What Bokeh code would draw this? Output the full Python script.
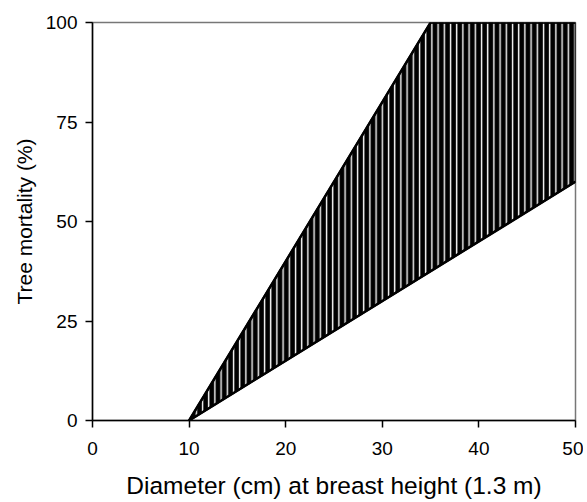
from bokeh.plotting import figure
from bokeh.models import Range1d, FixedTicker
from bokeh.embed import file_html
from bokeh.resources import INLINE

# Data: envelope of tree mortality vs diameter
upper_x = [10, 35, 50]
upper_y = [0, 100, 100]
lower_x = [50, 10]
lower_y = [60, 0]
x_ticks = [0, 10, 20, 30, 40, 50]
y_ticks = [0, 25, 50, 75, 100]

poly_x = upper_x + lower_x
poly_y = upper_y + lower_y

p = figure(width=583, height=502, output_backend="svg", toolbar_location=None,
           x_range=Range1d(0, 50), y_range=Range1d(0, 100),
           min_border_left=92, min_border_right=8, min_border_top=22, min_border_bottom=82)

p.patch(poly_x, poly_y, fill_color="black", line_color="black", line_width=2,
        hatch_pattern="vertical_line", hatch_color="white", hatch_scale=6.2, hatch_weight=1.4)
p.line(upper_x, upper_y, line_color="black", line_width=2.5)
p.line(lower_x, lower_y, line_color="black", line_width=2.5)

p.grid.visible = False
p.outline_line_color = "#777777"
p.outline_line_width = 1.5

for ax in (p.xaxis[0], p.yaxis[0]):
    ax.axis_line_color = "black"
    ax.axis_line_width = 1.5
    ax.major_tick_line_color = "black"
    ax.major_tick_line_width = 1.5
    ax.major_tick_out = 7
    ax.major_tick_in = 0
    ax.minor_tick_line_color = None
    ax.major_label_text_font = "Liberation Sans"
    ax.major_label_text_font_size = "19px"
    ax.major_label_text_color = "black"
    ax.axis_label_text_font = "Liberation Sans"
    ax.axis_label_text_font_style = "normal"
    ax.axis_label_text_color = "black"

p.xaxis[0].axis_label_text_font_size = "24.5px"
p.yaxis[0].axis_label_text_font_size = "21px"
p.xaxis[0].ticker = FixedTicker(ticks=x_ticks)
p.yaxis[0].ticker = FixedTicker(ticks=y_ticks)
p.xaxis[0].axis_label = "Diameter (cm) at breast height (1.3 m)"
p.yaxis[0].axis_label = "Tree mortality (%)"
p.xaxis[0].major_label_standoff = 14
p.yaxis[0].major_label_standoff = 8
p.xaxis[0].axis_label_standoff = 14
p.yaxis[0].axis_label_standoff = 7

open("out.html", "w").write(file_html(p, INLINE))
